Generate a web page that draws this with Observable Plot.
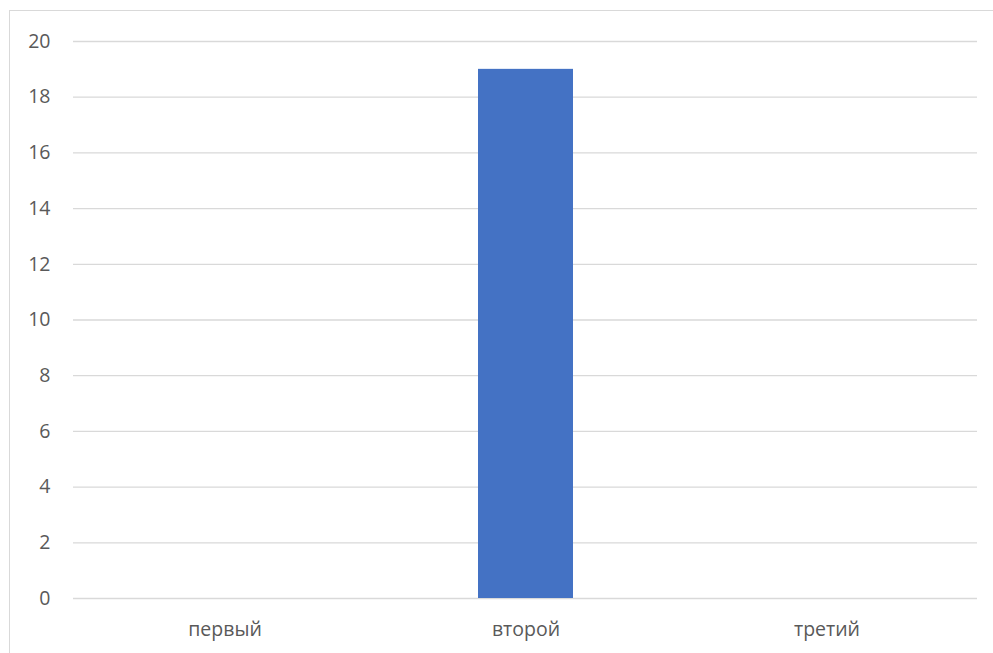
<!DOCTYPE html>
<html><head><meta charset="utf-8">
<script src="https://cdn.jsdelivr.net/npm/d3@7"></script>
<script src="https://cdn.jsdelivr.net/npm/@observablehq/plot@0.6"></script>
<style>
body{margin:0;background:#fff;overflow:hidden;}
#wrap{position:relative;width:993px;height:653px;}
#frame{position:absolute;left:9px;top:10px;width:1000px;height:700px;border:1px solid #d9d9d9;box-sizing:border-box;pointer-events:none;}
</style></head>
<body><div id="wrap"><div id="frame"></div></div>
<script>
const categories = ["первый", "второй", "третий"];
const values = [0, 19, 0];
const yTicks = [0, 2, 4, 6, 8, 10, 12, 14, 16, 18, 20];
const data = categories.map((c, i) => ({cat: c, v: values[i]}));

const chart = Plot.plot({
  width: 993, height: 653,
  marginLeft: 73, marginRight: 16, marginTop: 41, marginBottom: 55,
  style: {fontFamily: "'Open Sans', sans-serif", fontSize: "19.5px", color: "#595959", background: "transparent"},
  x: {domain: categories, paddingInner: 0.685, paddingOuter: 0.3425, align: 0.5, label: null, tickSize: 0, tickPadding: 24},
  y: {domain: [0, 20], ticks: yTicks, label: null, tickSize: 0, tickPadding: 23},
  marks: [
    Plot.gridY(yTicks, {stroke: "#d9d9d9", strokeOpacity: 1, strokeWidth: 1.3}),
    Plot.barY(data, {x: "cat", y: "v", fill: "#4472c4"})
  ]
});
chart.style.position = "absolute";
chart.style.left = "0";
chart.style.top = "0";
document.getElementById("wrap").appendChild(chart);
</script></body></html>
